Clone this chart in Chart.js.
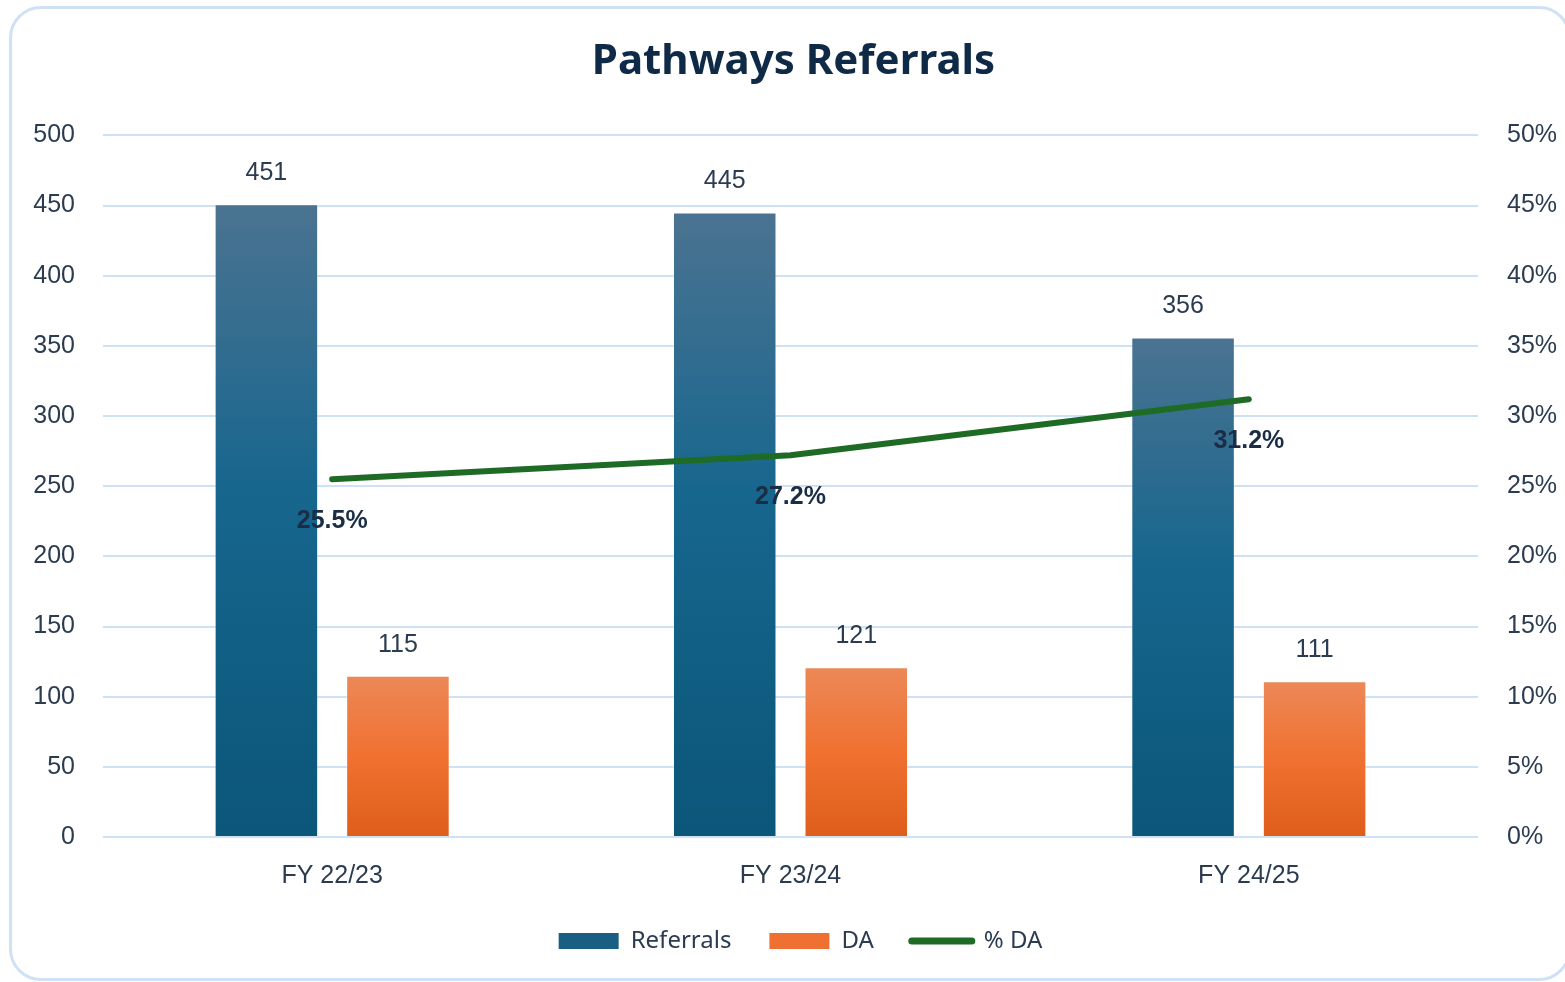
<!DOCTYPE html>
<html>
<head>
<meta charset="utf-8">
<title>Pathways Referrals</title>
<script src="https://cdn.jsdelivr.net/npm/chart.js@4"></script>
<style>
  html, body { margin: 0; padding: 0; background: #fff; overflow: hidden; }
  #wrap { position: relative; width: 1565px; height: 982px; overflow: hidden; }
  #frame {
    position: absolute; left: 9px; top: 6px; width: 1562px; height: 975px;
    border: 3px solid #cfe1f4; border-radius: 32px; box-sizing: border-box;
  }
  #chartBox { position: absolute; left: 0; top: 0; width: 1565px; height: 982px; }
</style>
</head>
<body>
<div id="wrap">
  <div id="frame"></div>
  <div id="chartBox"><canvas id="referralsChart"></canvas></div>
</div>
<script>
// Chart data
const categories = ['FY 22/23', 'FY 23/24', 'FY 24/25'];
const referrals = [451, 445, 356];
const daCounts = [115, 121, 111];
const pctDA = [25.5, 27.2, 31.2];

const textColor = '#2b3b50';
const labelFont = 'Liberation Sans, Arial, sans-serif';

// vertical gradient from the top of each bar down to the zero line
function barGradient(stops, fallback) {
    return (context) => {
        const chart = context.chart;
        if (!chart.chartArea || context.type !== 'data') return fallback;
        const yScale = chart.scales.y;
        const top = yScale.getPixelForValue(context.parsed.y);
        const base = yScale.getPixelForValue(0);
        if (!isFinite(top) || top === base) return fallback;
        const g = chart.ctx.createLinearGradient(0, top, 0, base);
        stops.forEach(s => g.addColorStop(s[0], s[1]));
        return g;
    };
}

// value labels above bars, percentages under the line points
const valueLabels = {
    id: 'valueLabels',
    afterLayout(chart) {
        // title and legend sit a bit right of centre in the original
        chart.legend.left += 18;
        chart.legend.right += 18;
        chart.titleBlock.left += 11;
        chart.titleBlock.right += 11;
    },
    afterDatasetsDraw(chart) {
        const ctx = chart.ctx;
        ctx.save();
        ctx.textAlign = 'center';
        ctx.textBaseline = 'middle';
        chart.data.datasets.forEach((ds, i) => {
            const meta = chart.getDatasetMeta(i);
            meta.data.forEach((el, j) => {
                if (ds.type === 'line') {
                    ctx.font = 'bold 25px ' + labelFont;
                    ctx.fillStyle = '#1b2d45';
                    ctx.fillText(ds.data[j].toFixed(1) + '%', el.x, el.y + 42);
                } else {
                    ctx.font = '25px ' + labelFont;
                    ctx.fillStyle = textColor;
                    ctx.fillText(String(ds.data[j]), el.x, el.y - 31);
                }
            });
        });
        ctx.restore();
    }
};

const ctx = document.getElementById('referralsChart').getContext('2d');

const referralsChart = new Chart(ctx, {
    data: {
        labels: categories,
        datasets: [
            {
                type: 'bar',
                label: 'Referrals',
                data: referrals,
                yAxisID: 'y',
                backgroundColor: barGradient([[0, '#4b7391'], [0.45, '#17668e'], [1, '#0b5679']], '#1b5e84'),
                borderColor: 'rgba(255,255,255,0.35)',
                borderWidth: 1,
                categoryPercentage: 0.574,
                barPercentage: 0.787
            },
            {
                type: 'bar',
                label: 'DA',
                data: daCounts,
                yAxisID: 'y',
                backgroundColor: barGradient([[0, '#ec8858'], [0.5, '#f07130'], [1, '#de5d1a']], '#ee7033'),
                borderColor: 'rgba(255,255,255,0.35)',
                borderWidth: 1,
                categoryPercentage: 0.574,
                barPercentage: 0.787
            },
            {
                type: 'line',
                label: '% DA',
                data: pctDA,
                yAxisID: 'y1',
                borderColor: '#1e6b26',
                backgroundColor: '#1e6b26',
                borderWidth: 6,
                borderCapStyle: 'round',
                borderJoinStyle: 'round',
                pointRadius: 0,
                tension: 0,
                order: -1
            }
        ]
    },
    options: {
        responsive: true,
        maintainAspectRatio: false,
        animation: false,
        layout: { padding: { left: 0, right: 0, top: 0, bottom: 19 } },
        scales: {
            x: {
                grid: { display: false, drawTicks: false },
                border: { display: false },
                ticks: { color: textColor, font: { family: labelFont, size: 25 }, padding: 24 },
                afterFit: (s) => { s.height = 54; }
            },
            y: {
                position: 'left',
                min: 0,
                max: 500,
                grid: { color: '#cfe1f4', lineWidth: 2, drawTicks: false },
                border: { display: false },
                ticks: { stepSize: 50, color: textColor, font: { family: labelFont, size: 25 }, padding: 28 },
                afterFit: (s) => { s.width = 103; }
            },
            y1: {
                position: 'right',
                min: 0,
                max: 50,
                grid: { display: false, drawTicks: false },
                border: { display: false },
                ticks: {
                    stepSize: 5,
                    color: textColor,
                    font: { family: labelFont, size: 25 },
                    padding: 29,
                    callback: (v) => v + '%'
                },
                afterFit: (s) => { s.width = 87; }
            }
        },
        plugins: {
            title: {
                display: true,
                text: 'Pathways Referrals',
                color: '#0e2a47',
                font: { family: 'Noto Sans, sans-serif', size: 42, weight: 'bold' },
                padding: { top: 37, bottom: 48 }
            },
            legend: {
                position: 'bottom',
                labels: {
                    color: textColor,
                    font: { family: 'Noto Sans, sans-serif', size: 24 },
                    padding: 38,
                    usePointStyle: true,
                    pointStyleWidth: 60,
                    boxHeight: 16,
                    generateLabels: (chart) => [
                        { text: 'Referrals', fillStyle: '#1b5e84', strokeStyle: '#1b5e84', lineWidth: 0, pointStyle: 'rect', datasetIndex: 0, fontColor: textColor },
                        { text: 'DA', fillStyle: '#ee7033', strokeStyle: '#ee7033', lineWidth: 0, pointStyle: 'rect', datasetIndex: 1, fontColor: textColor },
                        { text: '% DA', fillStyle: '#1e6b26', strokeStyle: '#1e6b26', lineWidth: 7, lineCap: 'round', pointStyle: 'line', datasetIndex: 2, fontColor: textColor }
                    ]
                }
            },
            tooltip: { enabled: false }
        }
    },
    plugins: [valueLabels]
});
</script>
</body>
</html>
